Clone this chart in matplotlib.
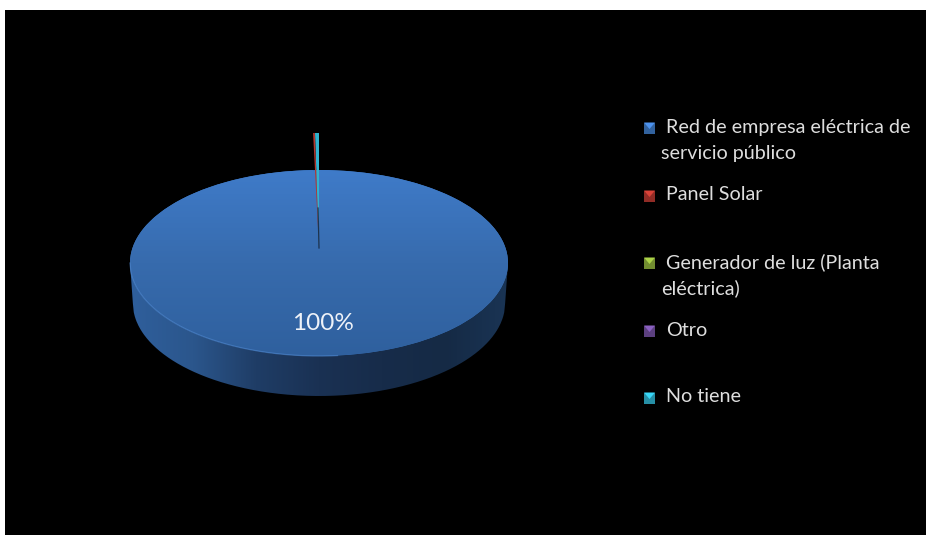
import numpy as np
import matplotlib
matplotlib.use("Agg")
import matplotlib.pyplot as plt
from matplotlib.patches import PathPatch, Rectangle, Polygon
from matplotlib.path import Path
from matplotlib.colors import LinearSegmentedColormap, to_rgb

categories = ["Red de empresa eléctrica de\nservicio público", "Panel Solar",
              "Generador de luz (Planta\neléctrica)", "Otro", "No tiene"]
values = [99.5, 0.15, 0.0, 0.0, 0.35]
colors = ["#3f7ac6", "#b5372f", "#8fb03c", "#7350a0", "#2fb3cf"]
value_label = "100%"

W, H = 926, 535
plt.rcParams["font.family"] = ["Lato", "DejaVu Sans"]
fig = plt.figure(figsize=(W / 100, H / 100), dpi=100, facecolor="white")

bg = fig.add_axes([0, 0, 1, 1], zorder=0)
bg.set_xlim(0, W); bg.set_ylim(H, 0); bg.axis("off")
bg.add_patch(Rectangle((5, 10), W - 5, H - 10, fc="black", ec="none"))

# Pie axes: one data unit = the ellipse radii
cx, cy, rx, ry = 319, 263, 189, 93
wall = 40
top_px, bot_px = 125, 400
ax = fig.add_axes([(cx - rx - 2) / W, 1 - bot_px / H, (2 * rx + 4) / W, (bot_px - top_px) / H], zorder=1)
ylo, yhi = (cy - bot_px) / ry, (cy - top_px) / ry
xlim = (-1 - 2 / rx, 1 + 2 / rx)

# side wall
wall_u = wall / ry
xw = np.linspace(-1, 1, 400)
yt = -np.sqrt(np.clip(1 - xw ** 2, 0, 1))
px = np.r_[xw, (xw * 0.985)[::-1]]
py = np.r_[yt, (yt - wall_u)[::-1]]
wall_path = PathPatch(Path(np.c_[px, py]), fc="none", ec="none")
ax.add_patch(wall_path)
wall_cmap = LinearSegmentedColormap.from_list(
    "w", ["#2f5f9c", "#2b568c", "#1f3d66", "#1a3153", "#172c4a", "#152a45", "#1a3454"])
im = ax.imshow(np.linspace(0, 1, 256)[None, :], extent=(-1, 1, -1 - wall_u, 0), cmap=wall_cmap,
               aspect="auto", zorder=1)
im.set_clip_path(wall_path)

# top face from the values
total = sum(values)
wedges, _ = ax.pie(values, colors=colors, startangle=90, counterclock=False, radius=1,
                   wedgeprops=dict(linewidth=0), normalize=True)
for w in wedges[1:]:
    w.set_visible(False)
wedges[0].set_zorder(2)
face_path = PathPatch(Path(np.c_[np.cos(np.linspace(0, 2 * np.pi, 500)), np.sin(np.linspace(0, 2 * np.pi, 500))]),
                      fc="none", ec="none")
ax.add_patch(face_path)
face_cmap = LinearSegmentedColormap.from_list("f", ["#2f609e", "#376bad", "#3f7bc9"])
im2 = ax.imshow(np.linspace(0, 1, 256)[:, None], extent=(-1, 1, -1, 1), origin="lower", cmap=face_cmap,
                aspect="auto", zorder=3)
im2.set_clip_path(face_path)

# rim highlight along the left front of the face
mask = xw <= 0.1
ax.plot(xw[mask], yt[mask], color="#4f88d0", lw=0.9, zorder=4, alpha=0.6)

# raised small slices, drawn from their share of the pie
apex = (0.0, (cy - 248) / ry)
tip_y = (cy - 133) / ry
cum = 0.0
for v, c in zip(values[:0:-1], colors[:0:-1]):
    if v <= 0:
        continue
    a0, a1 = 2 * np.pi * cum / total, 2 * np.pi * (cum + v) / total
    cum += v
    ax.add_patch(Polygon([apex, (-np.sin(a0), tip_y), (-np.sin(a1), tip_y)], fc=c, ec="none", zorder=5))
# dark inner edge in the lower part of the sliver
ax.plot([0, -0.005], [apex[1], apex[1] + 40 / ry], color="#14263f", lw=0.9, zorder=6, alpha=0.85)

ax.set_aspect("auto")
ax.set_xlim(*xlim); ax.set_ylim(ylo, yhi)
ax.axis("off")

# text layer
fg = fig.add_axes([0, 0, 1, 1], zorder=2)
fg.set_xlim(0, W); fg.set_ylim(H, 0); fg.axis("off")
fg.text(323, 324, value_label, color="#eef2f8", fontsize=17.5, ha="center", va="center")

# legend
ly = [128, 196, 263, 331, 398]
gy = [153, 288]
extra = iter(gy)
for name, c, y in zip(categories, colors, ly):
    rgb = np.array(to_rgb(c))
    x0, s = 644, 11
    fg.add_patch(Rectangle((x0, y - s / 2), s, s, fc=tuple(rgb * 0.8), ec="none"))
    fg.add_patch(Polygon([(x0, y - s / 2), (x0 + s, y - s / 2), (x0 + s / 2, y + 1)],
                         fc=tuple(np.clip(rgb * 1.2, 0, 1)), ec="none"))
    lines = name.split("\n")
    fg.text(666, y - 1, lines[0], color="#dedede", fontsize=14.2, va="center", ha="left")
    if len(lines) > 1:
        fg.text(661, next(extra), lines[1], color="#dedede", fontsize=14.2, va="center", ha="left")

fig.savefig("out.png", dpi=100, facecolor="white")
